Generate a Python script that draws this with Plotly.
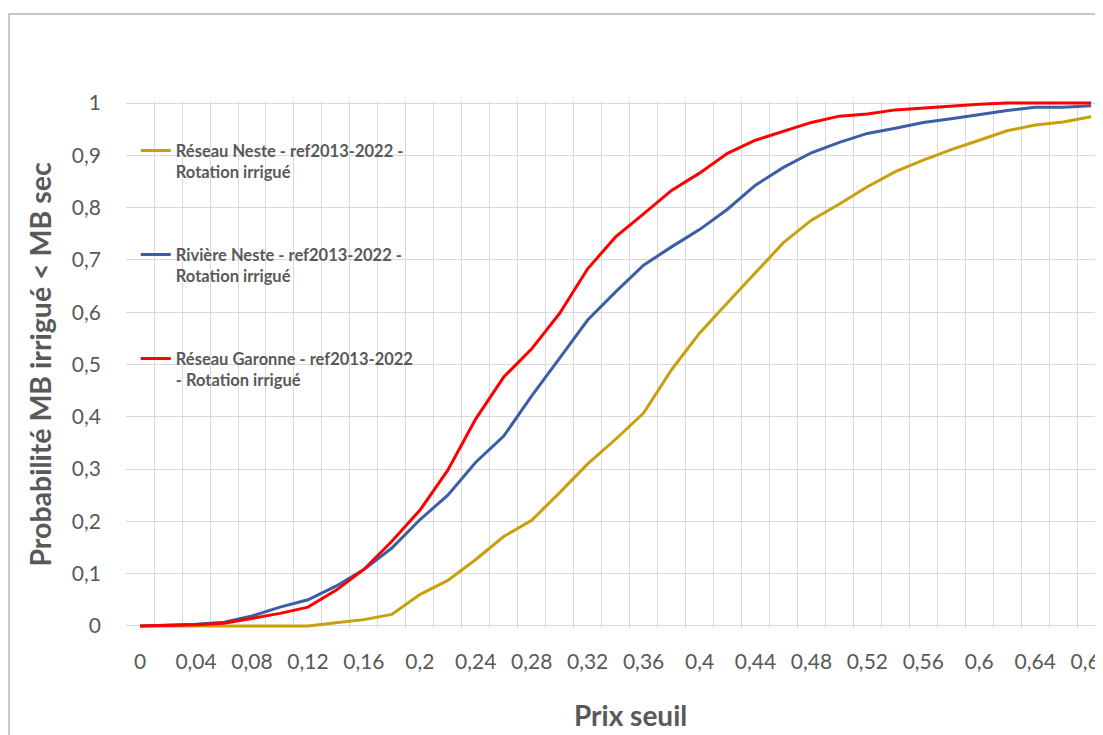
import plotly.graph_objects as go

# ---- data ----
prix_seuil = [0, 0.02, 0.04, 0.06, 0.08, 0.10, 0.12, 0.14, 0.16, 0.18,
              0.20, 0.22, 0.24, 0.26, 0.28, 0.30, 0.32, 0.34, 0.36, 0.38,
              0.40, 0.42, 0.44, 0.46, 0.48, 0.50, 0.52, 0.54, 0.56, 0.58,
              0.60, 0.62, 0.64, 0.66, 0.68]

reseau_neste = [0, 0, 0, 0, 0, 0, 0, 0.006, 0.012, 0.022,
                0.06, 0.087, 0.127, 0.171, 0.202, 0.255, 0.31, 0.357, 0.407, 0.49,
                0.56, 0.618, 0.675, 0.733, 0.776, 0.807, 0.84, 0.869, 0.891, 0.911,
                0.929, 0.947, 0.958, 0.964, 0.974]

riviere_neste = [0, 0.001, 0.003, 0.007, 0.019, 0.036, 0.05, 0.076, 0.108, 0.149,
                 0.203, 0.25, 0.313, 0.363, 0.44, 0.512, 0.585, 0.639, 0.69, 0.725,
                 0.758, 0.797, 0.843, 0.877, 0.905, 0.925, 0.942, 0.952, 0.963, 0.97,
                 0.978, 0.986, 0.992, 0.992, 0.995]

reseau_garonne = [0, 0.001, 0.002, 0.005, 0.014, 0.024, 0.036, 0.068, 0.108, 0.162,
                  0.221, 0.298, 0.396, 0.476, 0.53, 0.598, 0.683, 0.744, 0.788, 0.833,
                  0.866, 0.904, 0.929, 0.946, 0.963, 0.975, 0.979, 0.987, 0.991, 0.994,
                  0.998, 1.0, 1.0, 1.0, 1.0]

series_names = ["Réseau Neste - ref2013-2022 -<br>Rotation irrigué",
                "Rivière Neste - ref2013-2022 -<br>Rotation irrigué",
                "Réseau Garonne - ref2013-2022<br>- Rotation irrigué"]
series_colors = ["#C9A00C", "#3B5EA6", "#FF0000"]

x_tick_vals = [0, 0.04, 0.08, 0.12, 0.16, 0.20, 0.24, 0.28, 0.32, 0.36,
               0.40, 0.44, 0.48, 0.52, 0.56, 0.60, 0.64, 0.68]
x_tick_text = ["0", "0,04", "0,08", "0,12", "0,16", "0,2", "0,24", "0,28", "0,32", "0,36",
               "0,4", "0,44", "0,48", "0,52", "0,56", "0,6", "0,64", "0,68"]
y_tick_vals = [0, 0.1, 0.2, 0.3, 0.4, 0.5, 0.6, 0.7, 0.8, 0.9, 1.0]
y_tick_text = ["0", "0,1", "0,2", "0,3", "0,4", "0,5", "0,6", "0,7", "0,8", "0,9", "1"]

x_title = "Prix seuil"
y_title = "Probabilité MB irrigué < MB sec"

TEXT = "#595959"
GRID = "#D9D9D9"
FONT = "Lato"

fig = go.Figure()
for name, vals, col in zip(series_names, [reseau_neste, riviere_neste, reseau_garonne], series_colors):
    fig.add_trace(go.Scatter(
        x=prix_seuil, y=vals, mode="lines", name=name, legendgroup=name,
        line=dict(color=col, width=3),
    ))

fig.update_layout(
    width=1095, height=727,
    margin=dict(l=118, r=0, t=93, b=107, autoexpand=False),
    paper_bgcolor="white", plot_bgcolor="white",
    font=dict(family=FONT, color=TEXT, size=21),
    showlegend=True,
    legend=dict(
        x=0.01, y=0.9386, xanchor="left", yanchor="top",
        bgcolor="rgba(0,0,0,0)", borderwidth=0,
        font=dict(family=FONT, size=16.5, color=TEXT, weight="bold"),
        traceorder="grouped", tracegroupgap=58, valign="top",
        itemwidth=30,
    ),
    shapes=[dict(type="rect", xref="paper", yref="paper",
                 x0=-0.1198, x1=1.3, y0=-0.4, y1=1.165,
                 line=dict(color="#C8C8C8", width=2), layer="below")],
    annotations=[dict(text=x_title, xref="paper", yref="paper",
                      x=0.516, y=-0.165, xanchor="center", yanchor="middle",
                      showarrow=False,
                      font=dict(family=FONT, size=28, color=TEXT, weight="bold"))],
)

fig.update_xaxes(
    range=[-0.0101, 0.6885],
    tickmode="array", tickvals=x_tick_vals, ticktext=x_tick_text,
    showgrid=False, zeroline=False, showline=False,
    ticks="outside", ticklen=15, tickcolor="rgba(0,0,0,0)",
    ticklabeloverflow="allow",
    tickfont=dict(family=FONT, size=21, color=TEXT),
    minor=dict(tickmode="linear", tick0=0.01, dtick=0.02, showgrid=True,
               gridcolor=GRID, gridwidth=1.3, ticks=""),
    automargin=False,
)
fig.update_yaxes(
    range=[-0.004, 1.004],
    tickmode="array", tickvals=y_tick_vals, ticktext=y_tick_text,
    showgrid=True, gridcolor=GRID, gridwidth=1.3,
    zeroline=False, showline=False, ticks="", ticklabelstandoff=24,
    tickfont=dict(family=FONT, size=21, color=TEXT),
    title=dict(text=y_title, font=dict(family=FONT, size=28.5, color=TEXT, weight="bold"),
               standoff=11),
    automargin=False,
)

fig.write_html("out.html")
